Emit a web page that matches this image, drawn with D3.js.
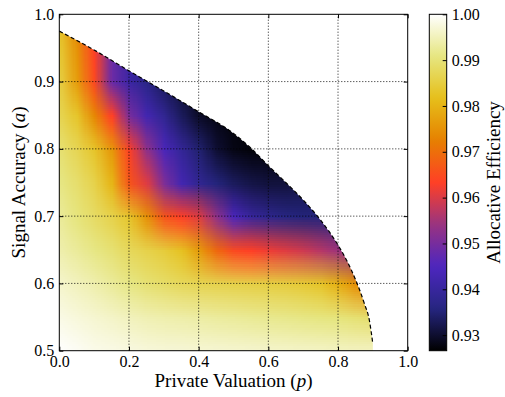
<!DOCTYPE html>
<html>
<head>
<meta charset="utf-8">
<script src="https://cdn.jsdelivr.net/npm/d3@7"></script>
<style>
  body { margin: 0; background: #fff; }
  text { font-family: "Liberation Serif", "Times New Roman", serif; fill: #000; }
</style>
</head>
<body>
<div id="chart"></div>
<script>
// grid of the heatmap
const pValues = [0, 0.05, 0.1, 0.15, 0.2, 0.25, 0.3, 0.35, 0.4, 0.45, 0.5, 0.55, 0.6, 0.65, 0.7, 0.75, 0.8, 0.85, 0.9];
const aValues = [0.5, 0.55, 0.6, 0.65, 0.7, 0.75, 0.8, 0.85, 0.9, 0.95, 1.0];

// allocative efficiency, one row per aValue (bottom to top), one column per pValue
const efficiency = [
  [1.0000, 0.9993, 0.9985, 0.9982, 0.9978, 0.9974, 0.9972, 0.9971, 0.9969, 0.9968, 0.9966, 0.9965, 0.9963, 0.9962, 0.9960, 0.9959, 0.9957, 0.9956, 0.9956],
  [0.9982, 0.9974, 0.9967, 0.9960, 0.9952, 0.9945, 0.9941, 0.9938, 0.9934, 0.9930, 0.9927, 0.9923, 0.9919, 0.9916, 0.9912, 0.9908, 0.9905, 0.9897, 0.9890],
  [0.9963, 0.9952, 0.9941, 0.9927, 0.9912, 0.9897, 0.9886, 0.9875, 0.9868, 0.9864, 0.9861, 0.9857, 0.9853, 0.9850, 0.9842, 0.9831, 0.9794, 0.9750, 0.9721],
  [0.9941, 0.9927, 0.9912, 0.9897, 0.9875, 0.9861, 0.9846, 0.9824, 0.9765, 0.9692, 0.9648, 0.9633, 0.9618, 0.9604, 0.9589, 0.9567, 0.9545, 0.9523, 0.9508],
  [0.9927, 0.9905, 0.9883, 0.9861, 0.9831, 0.9750, 0.9662, 0.9633, 0.9604, 0.9530, 0.9442, 0.9398, 0.9376, 0.9361, 0.9354, 0.9354, 0.9361, 0.9376, 0.9383],
  [0.9912, 0.9890, 0.9861, 0.9802, 0.9662, 0.9604, 0.9508, 0.9427, 0.9383, 0.9354, 0.9332, 0.9317, 0.9310, 0.9310, 0.9317, 0.9332, 0.9347, 0.9369, 0.9391],
  [0.9897, 0.9868, 0.9831, 0.9758, 0.9633, 0.9530, 0.9442, 0.9391, 0.9347, 0.9303, 0.9281, 0.9273, 0.9273, 0.9281, 0.9288, 0.9295, 0.9303, 0.9310, 0.9317],
  [0.9868, 0.9831, 0.9736, 0.9633, 0.9501, 0.9427, 0.9383, 0.9332, 0.9295, 0.9281, 0.9273, 0.9273, 0.9273, 0.9281, 0.9288, 0.9295, 0.9303, 0.9310, 0.9317],
  [0.9853, 0.9765, 0.9648, 0.9486, 0.9413, 0.9369, 0.9332, 0.9303, 0.9288, 0.9281, 0.9281, 0.9281, 0.9281, 0.9281, 0.9288, 0.9295, 0.9303, 0.9310, 0.9317],
  [0.9839, 0.9750, 0.9633, 0.9486, 0.9398, 0.9354, 0.9325, 0.9303, 0.9288, 0.9288, 0.9288, 0.9288, 0.9288, 0.9288, 0.9295, 0.9303, 0.9303, 0.9310, 0.9317],
  [0.9824, 0.9721, 0.9604, 0.9464, 0.9383, 0.9339, 0.9317, 0.9303, 0.9295, 0.9295, 0.9295, 0.9295, 0.9295, 0.9295, 0.9303, 0.9303, 0.9310, 0.9310, 0.9317]
];

// the dashed edge of the feasible region
const boundaryP = [0, 0.1, 0.2, 0.3, 0.4, 0.5, 0.55, 0.6, 0.65, 0.7, 0.75, 0.8, 0.825, 0.85, 0.875, 0.89, 0.9];
const boundaryA = [0.975, 0.947, 0.916, 0.886, 0.855, 0.823, 0.801, 0.775, 0.75, 0.724, 0.694, 0.657, 0.634, 0.606, 0.571, 0.545, 0.51];

const xTicks = [0, 0.2, 0.4, 0.6, 0.8, 1.0];
const yTicks = [0.5, 0.6, 0.7, 0.8, 0.9, 1.0];
const cbarTicks = [0.93, 0.94, 0.95, 0.96, 0.97, 0.98, 0.99, 1.00];
const cbarMin = 0.9266, cbarMax = 1.0;

// CMRmap colour map
const cmrStops = [0, 0.125, 0.25, 0.375, 0.5, 0.625, 0.75, 0.875, 1];
const cmrColors = ["rgb(0,0,0)", "rgb(38,38,128)", "rgb(77,38,191)", "rgb(153,51,128)", "rgb(255,64,38)",
                   "rgb(230,128,0)", "rgb(230,191,26)", "rgb(230,230,128)", "rgb(255,255,255)"];

const W = 505, H = 397;
const margin = { top: 14.3, left: 59.3, right: 97.3, bottom: 46.3 };
const plotW = W - margin.left - margin.right;
const plotH = H - margin.top - margin.bottom;

const x = d3.scaleLinear().domain([0, 1]).range([margin.left, margin.left + plotW]);
const y = d3.scaleLinear().domain([0.5, 1]).range([margin.top + plotH, margin.top]);
const color = d3.scaleLinear()
  .domain(cmrStops.map(s => cbarMin + s * (cbarMax - cbarMin)))
  .range(cmrColors)
  .interpolate(d3.interpolateRgb)
  .clamp(true);

const svg = d3.select("#chart").append("svg")
  .attr("width", W)
  .attr("height", H);

// region below the boundary
const edge = boundaryP.map((p, i) => [p, boundaryA[i]]);
const area = d3.area()
  .x(d => x(d[0]))
  .y0(y(0.5))
  .y1(d => y(d[1]))
  .curve(d3.curveMonotoneX);
const line = d3.line()
  .x(d => x(d[0]))
  .y(d => y(d[1]))
  .curve(d3.curveMonotoneX);

const defs = svg.append("defs");
defs.append("clipPath").attr("id", "region")
  .append("path").attr("d", area(edge));

// heatmap: one canvas pixel per grid cell, smoothed by the browser when scaled
const canvas = document.createElement("canvas");
canvas.width = pValues.length;
canvas.height = aValues.length;
const ctx = canvas.getContext("2d");
aValues.forEach((a, j) => {
  pValues.forEach((p, i) => {
    ctx.fillStyle = color(efficiency[j][i]);
    ctx.fillRect(i, aValues.length - 1 - j, 1, 1);
  });
});
const dp = pValues[1] - pValues[0], da = aValues[1] - aValues[0];
svg.append("image")
  .attr("href", canvas.toDataURL())
  .attr("x", x(pValues[0] - dp / 2))
  .attr("y", y(aValues[aValues.length - 1] + da / 2))
  .attr("width", x(pValues[pValues.length - 1] + dp / 2) - x(pValues[0] - dp / 2))
  .attr("height", y(aValues[0] - da / 2) - y(aValues[aValues.length - 1] + da / 2))
  .attr("preserveAspectRatio", "none")
  .attr("clip-path", "url(#region)");

// dotted grid
const grid = svg.append("g").attr("stroke", "#000").attr("stroke-width", 0.9).attr("stroke-dasharray", "1,2");
grid.selectAll("line.vx").data(xTicks.slice(1, -1)).join("line")
  .attr("x1", d => x(d)).attr("x2", d => x(d))
  .attr("y1", y(0.5)).attr("y2", y(1));
grid.selectAll("line.hy").data(yTicks.slice(1, -1)).join("line")
  .attr("x1", x(0)).attr("x2", x(1))
  .attr("y1", d => y(d)).attr("y2", d => y(d));

// dashed boundary
svg.append("path")
  .attr("d", line(edge))
  .attr("fill", "none")
  .attr("stroke", "#000")
  .attr("stroke-width", 1.2)
  .attr("stroke-dasharray", "4,2.5");

// axes, classic inward ticks on all sides
function styleAxis(g) {
  g.select(".domain").remove();
  g.selectAll(".tick line").attr("stroke", "#000").attr("stroke-width", 1);
  g.selectAll(".tick text").attr("font-size", 16).attr("fill", "#000");
}
svg.append("g").attr("transform", `translate(0,${y(0.5)})`)
  .call(d3.axisBottom(x).tickValues(xTicks).tickFormat(d3.format(".1f")).tickSize(-4).tickPadding(5))
  .call(styleAxis);
svg.append("g").attr("transform", `translate(${x(0)},0)`)
  .call(d3.axisLeft(y).tickValues(yTicks).tickFormat(d3.format(".1f")).tickSize(-4).tickPadding(5))
  .call(styleAxis);
svg.append("g").attr("transform", `translate(0,${y(1)})`)
  .call(d3.axisTop(x).tickValues(xTicks).tickFormat("").tickSize(-4))
  .call(styleAxis);
svg.append("g").attr("transform", `translate(${x(1)},0)`)
  .call(d3.axisRight(y).tickValues(yTicks).tickFormat("").tickSize(-4))
  .call(styleAxis);

svg.append("rect")
  .attr("x", x(0)).attr("y", y(1))
  .attr("width", x(1) - x(0)).attr("height", y(0.5) - y(1))
  .attr("fill", "none").attr("stroke", "#000").attr("stroke-width", 1);

// axis labels
const xLabel = svg.append("text")
  .attr("x", (x(0) + x(1)) / 2).attr("y", 387)
  .attr("text-anchor", "middle").attr("font-size", 19);
xLabel.append("tspan").text("Private Valuation (");
xLabel.append("tspan").attr("font-style", "italic").text("p");
xLabel.append("tspan").text(")");

const yLabel = svg.append("text")
  .attr("transform", `translate(24.5,${(y(0.5) + y(1)) / 2}) rotate(-90)`)
  .attr("text-anchor", "middle").attr("font-size", 19);
yLabel.append("tspan").text("Signal Accuracy (");
yLabel.append("tspan").attr("font-style", "italic").text("a");
yLabel.append("tspan").text(")");

// colour bar
const cbX = 429.3, cbW = 17.4;
const cScale = d3.scaleLinear().domain([cbarMin, cbarMax]).range([y(0.5), y(1)]);
const grad = defs.append("linearGradient").attr("id", "cbar")
  .attr("x1", 0).attr("y1", 1).attr("x2", 0).attr("y2", 0);
grad.selectAll("stop").data(d3.range(0, 1.0001, 0.02)).join("stop")
  .attr("offset", d => d)
  .attr("stop-color", d => color(cbarMin + d * (cbarMax - cbarMin)));
svg.append("rect")
  .attr("x", cbX).attr("y", cScale(cbarMax))
  .attr("width", cbW).attr("height", cScale(cbarMin) - cScale(cbarMax))
  .attr("fill", "url(#cbar)")
  .attr("stroke", "#000").attr("stroke-width", 1);
svg.append("g").attr("transform", `translate(${cbX + cbW},0)`)
  .call(d3.axisRight(cScale).tickValues(cbarTicks).tickFormat(d3.format(".2f")).tickSize(-4).tickPadding(5))
  .call(styleAxis);

svg.append("text")
  .attr("transform", `translate(500,${(cScale(cbarMin) + cScale(cbarMax)) / 2}) rotate(-90)`)
  .attr("text-anchor", "middle").attr("font-size", 19)
  .text("Allocative Efficiency");
</script>
</body>
</html>
